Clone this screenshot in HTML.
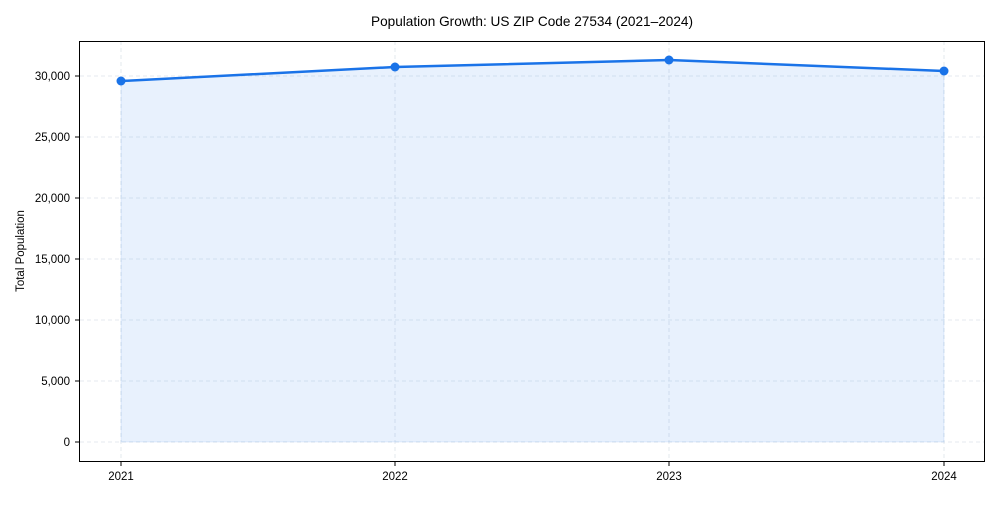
<!DOCTYPE html>
<html><head><style>body{margin:0;background:#fff}</style></head><body>
<svg width="1000" height="500" xmlns="http://www.w3.org/2000/svg" font-family="Liberation Sans, Arial, sans-serif">
<rect width="1000" height="500" fill="#fff"/>
<text x="532" y="26" font-size="14" text-anchor="middle" textLength="322" lengthAdjust="spacingAndGlyphs">Population Growth: US ZIP Code 27534 (2021–2024)</text>
<g stroke="#dde3ea" stroke-dasharray="4,3" stroke-width="0.8">
<line x1="80" x2="985" y1="442" y2="442"/><line x1="80" x2="985" y1="381" y2="381"/>
<line x1="80" x2="985" y1="320" y2="320"/><line x1="80" x2="985" y1="259" y2="259"/>
<line x1="80" x2="985" y1="198" y2="198"/><line x1="80" x2="985" y1="137" y2="137"/>
<line x1="80" x2="985" y1="76" y2="76"/>
<line y1="41" y2="461" x1="121" x2="121"/><line y1="41" y2="461" x1="395" x2="395"/>
<line y1="41" y2="461" x1="669" x2="669"/><line y1="41" y2="461" x1="944" x2="944"/>
</g>
<polygon points="121,442 121,81 395,67 669,60 944,71 944,442" fill="#1a73e8" fill-opacity="0.1" stroke="#1a73e8" stroke-opacity="0.1"/>
<polyline points="121,81 395,67 669,60 944,71" fill="none" stroke="#1a73e8" stroke-width="2.5"/>
<g fill="#1a73e8"><circle cx="121" cy="81" r="4.5"/><circle cx="395" cy="67" r="4.5"/><circle cx="669" cy="60" r="4.5"/><circle cx="944" cy="71" r="4.5"/></g>
<rect x="79.5" y="41.5" width="905" height="420" fill="none" stroke="#000" stroke-width="1"/>
<g stroke="#000"><line x1="75" x2="80" y1="442" y2="442"/><line x1="75" x2="80" y1="381" y2="381"/><line x1="75" x2="80" y1="320" y2="320"/><line x1="75" x2="80" y1="259" y2="259"/><line x1="75" x2="80" y1="198" y2="198"/><line x1="75" x2="80" y1="137" y2="137"/><line x1="75" x2="80" y1="76" y2="76"/>
<line x1="121" x2="121" y1="462" y2="466"/><line x1="395" x2="395" y1="462" y2="466"/><line x1="669" x2="669" y1="462" y2="466"/><line x1="944" x2="944" y1="462" y2="466"/></g>
<g font-size="11.5" text-anchor="end">
<text x="70" y="446">0</text><text x="70" y="385">5,000</text><text x="70" y="324">10,000</text><text x="70" y="263">15,000</text><text x="70" y="202">20,000</text><text x="70" y="141">25,000</text><text x="70" y="80">30,000</text>
</g>
<g font-size="11.5" text-anchor="middle">
<text x="121" y="480">2021</text><text x="395" y="480">2022</text><text x="669" y="480">2023</text><text x="944" y="480">2024</text>
</g>
<text transform="translate(24,251) rotate(-90)" font-size="11.5" text-anchor="middle">Total Population</text>
</svg>
</body></html>
